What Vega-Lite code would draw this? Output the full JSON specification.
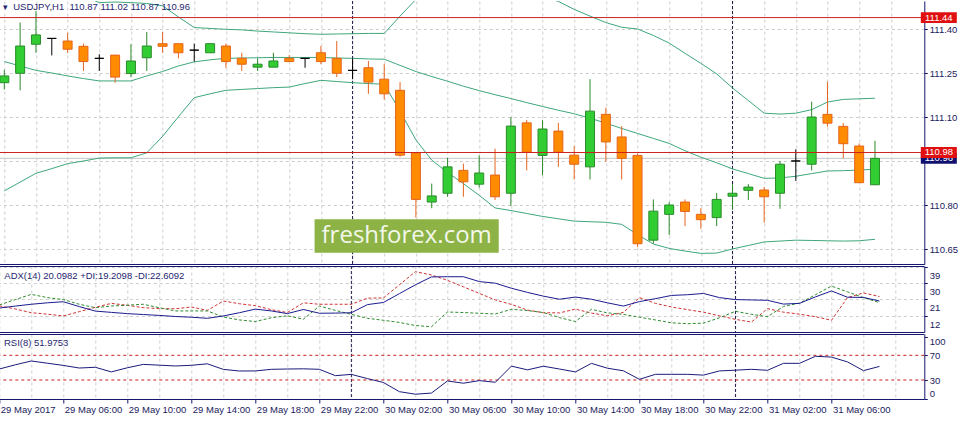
{
"$schema": "https://vega.github.io/schema/vega-lite/v6.json",
"background": "white",
"padding": {"left": -1.7, "top": 0, "right": 0, "bottom": 0},
"autosize": {"type": "pad"},
"spacing": 2,
"bounds": "flush",
"datasets": {
"bars": [
{"t":"2017-05-29T02:00:00Z","open":111.218,"high":111.262,"low":111.195,"close":111.241,"upper":111.732,"mid":111.290,"lower":110.849,"adx":16.2,"pdi":17.9,"mdi":17.4,"rsi":47.8},
{"t":"2017-05-29T03:00:00Z","open":111.250,"high":111.423,"low":111.192,"close":111.343,"upper":111.670,"mid":111.275,"lower":110.879,"adx":17.3,"pdi":20.9,"mdi":15.7,"rsi":54.6},
{"t":"2017-05-29T04:00:00Z","open":111.349,"high":111.462,"low":111.320,"close":111.381,"upper":111.610,"mid":111.260,"lower":110.909,"adx":18.3,"pdi":23.8,"mdi":13.6,"rsi":60.8},
{"t":"2017-05-29T05:00:00Z","open":111.369,"high":111.369,"low":111.311,"close":111.369,"upper":111.576,"mid":111.251,"lower":110.925,"adx":19.1,"pdi":22.0,"mdi":12.8,"rsi":57.2},
{"t":"2017-05-29T06:00:00Z","open":111.360,"high":111.388,"low":111.320,"close":111.332,"upper":111.540,"mid":111.241,"lower":110.942,"adx":19.7,"pdi":20.9,"mdi":11.8,"rsi":53.6},
{"t":"2017-05-29T07:00:00Z","open":111.342,"high":111.351,"low":111.258,"close":111.290,"upper":111.513,"mid":111.232,"lower":110.951,"adx":17.0,"pdi":18.3,"mdi":14.2,"rsi":49.4},
{"t":"2017-05-29T08:00:00Z","open":111.301,"high":111.315,"low":111.258,"close":111.301,"upper":111.491,"mid":111.224,"lower":110.961,"adx":14.5,"pdi":16.4,"mdi":16.6,"rsi":50.6},
{"t":"2017-05-29T09:00:00Z","open":111.312,"high":111.312,"low":111.218,"close":111.237,"upper":111.493,"mid":111.224,"lower":110.962,"adx":13.8,"pdi":17.3,"mdi":18.8,"rsi":43.1},
{"t":"2017-05-29T10:00:00Z","open":111.249,"high":111.349,"low":111.237,"close":111.292,"upper":111.491,"mid":111.224,"lower":110.962,"adx":13.1,"pdi":17.8,"mdi":17.7,"rsi":49.8},
{"t":"2017-05-29T11:00:00Z","open":111.303,"high":111.391,"low":111.258,"close":111.343,"upper":111.488,"mid":111.241,"lower":110.979,"adx":12.6,"pdi":18.3,"mdi":16.4,"rsi":55.3},
{"t":"2017-05-29T12:00:00Z","open":111.351,"high":111.391,"low":111.320,"close":111.342,"upper":111.480,"mid":111.256,"lower":111.035,"adx":12.1,"pdi":16.4,"mdi":15.9,"rsi":54.0},
{"t":"2017-05-29T13:00:00Z","open":111.351,"high":111.351,"low":111.301,"close":111.320,"upper":111.442,"mid":111.275,"lower":111.102,"adx":11.5,"pdi":14.6,"mdi":15.8,"rsi":52.7},
{"t":"2017-05-29T14:00:00Z","open":111.329,"high":111.351,"low":111.290,"close":111.329,"upper":111.406,"mid":111.289,"lower":111.167,"adx":11.1,"pdi":14.6,"mdi":16.8,"rsi":53.8},
{"t":"2017-05-29T15:00:00Z","open":111.320,"high":111.352,"low":111.319,"close":111.351,"upper":111.403,"mid":111.296,"lower":111.180,"adx":10.5,"pdi":14.6,"mdi":14.9,"rsi":56.2},
{"t":"2017-05-29T16:00:00Z","open":111.343,"high":111.351,"low":111.269,"close":111.290,"upper":111.400,"mid":111.301,"lower":111.192,"adx":11.8,"pdi":11.2,"mdi":20.1,"rsi":47.2},
{"t":"2017-05-29T17:00:00Z","open":111.301,"high":111.320,"low":111.258,"close":111.281,"upper":111.398,"mid":111.302,"lower":111.195,"adx":13.6,"pdi":9.6,"mdi":18.6,"rsi":44.6},
{"t":"2017-05-29T18:00:00Z","open":111.271,"high":111.301,"low":111.258,"close":111.281,"upper":111.394,"mid":111.303,"lower":111.198,"adx":15.6,"pdi":8.7,"mdi":17.5,"rsi":44.7},
{"t":"2017-05-29T19:00:00Z","open":111.271,"high":111.320,"low":111.271,"close":111.292,"upper":111.391,"mid":111.304,"lower":111.201,"adx":14.6,"pdi":10.8,"mdi":15.3,"rsi":47.3},
{"t":"2017-05-29T20:00:00Z","open":111.301,"high":111.312,"low":111.289,"close":111.290,"upper":111.388,"mid":111.304,"lower":111.203,"adx":13.1,"pdi":11.9,"mdi":13.7,"rsi":47.8},
{"t":"2017-05-29T21:00:00Z","open":111.301,"high":111.301,"low":111.269,"close":111.301,"upper":111.385,"mid":111.304,"lower":111.215,"adx":15.4,"pdi":10.0,"mdi":19.1,"rsi":48.1},
{"t":"2017-05-29T22:00:00Z","open":111.320,"high":111.343,"low":111.281,"close":111.290,"upper":111.383,"mid":111.304,"lower":111.226,"adx":13.3,"pdi":17.3,"mdi":18.3,"rsi":47.3},
{"t":"2017-05-29T23:00:00Z","open":111.301,"high":111.360,"low":111.237,"close":111.250,"upper":111.384,"mid":111.302,"lower":111.222,"adx":13.4,"pdi":14.9,"mdi":18.3,"rsi":37.0},
{"t":"2017-05-30T00:00:00Z","open":111.260,"high":111.301,"low":111.230,"close":111.260,"upper":111.385,"mid":111.301,"lower":111.218,"adx":13.6,"pdi":12.7,"mdi":18.3,"rsi":39.1},
{"t":"2017-05-30T01:00:00Z","open":111.269,"high":111.292,"low":111.180,"close":111.220,"upper":111.386,"mid":111.299,"lower":111.215,"adx":18.1,"pdi":10.5,"mdi":21.7,"rsi":32.3},
{"t":"2017-05-30T02:00:00Z","open":111.230,"high":111.281,"low":111.161,"close":111.180,"upper":111.386,"mid":111.298,"lower":111.213,"adx":19.3,"pdi":9.4,"mdi":21.8,"rsi":26.0},
{"t":"2017-05-30T03:00:00Z","open":111.192,"high":111.220,"low":110.965,"close":110.971,"upper":111.445,"mid":111.277,"lower":111.121,"adx":24.2,"pdi":8.2,"mdi":29.1,"rsi":11.1},
{"t":"2017-05-30T04:00:00Z","open":110.979,"high":110.980,"low":110.758,"close":110.820,"upper":111.502,"mid":111.256,"lower":111.023,"adx":29.1,"pdi":6.5,"mdi":36.4,"rsi":7.0},
{"t":"2017-05-30T05:00:00Z","open":110.811,"high":110.874,"low":110.790,"close":110.832,"upper":111.524,"mid":111.239,"lower":110.954,"adx":33.5,"pdi":5.8,"mdi":34.6,"rsi":8.8},
{"t":"2017-05-30T06:00:00Z","open":110.841,"high":110.962,"low":110.829,"close":110.931,"upper":111.533,"mid":111.223,"lower":110.912,"adx":33.6,"pdi":14.0,"mdi":31.6,"rsi":28.4},
{"t":"2017-05-30T07:00:00Z","open":110.919,"high":110.942,"low":110.829,"close":110.880,"upper":111.539,"mid":111.206,"lower":110.874,"adx":33.6,"pdi":13.7,"mdi":28.0,"rsi":24.8},
{"t":"2017-05-30T08:00:00Z","open":110.872,"high":110.971,"low":110.860,"close":110.910,"upper":111.548,"mid":111.191,"lower":110.834,"adx":30.9,"pdi":13.3,"mdi":24.3,"rsi":29.0},
{"t":"2017-05-30T09:00:00Z","open":110.903,"high":110.993,"low":110.818,"close":110.829,"upper":111.564,"mid":111.177,"lower":110.791,"adx":30.0,"pdi":12.9,"mdi":20.7,"rsi":26.3},
{"t":"2017-05-30T10:00:00Z","open":110.841,"high":111.101,"low":110.798,"close":111.070,"upper":111.545,"mid":111.164,"lower":110.782,"adx":27.2,"pdi":15.5,"mdi":18.2,"rsi":52.5},
{"t":"2017-05-30T11:00:00Z","open":111.081,"high":111.091,"low":110.919,"close":110.981,"upper":111.528,"mid":111.150,"lower":110.772,"adx":24.9,"pdi":14.8,"mdi":15.1,"rsi":46.4},
{"t":"2017-05-30T12:00:00Z","open":110.970,"high":111.091,"low":110.902,"close":111.060,"upper":111.512,"mid":111.137,"lower":110.762,"adx":22.8,"pdi":13.7,"mdi":13.6,"rsi":52.3},
{"t":"2017-05-30T13:00:00Z","open":111.053,"high":111.081,"low":110.931,"close":110.981,"upper":111.495,"mid":111.124,"lower":110.754,"adx":21.1,"pdi":10.9,"mdi":13.5,"rsi":47.8},
{"t":"2017-05-30T14:00:00Z","open":110.971,"high":111.002,"low":110.888,"close":110.940,"upper":111.468,"mid":111.112,"lower":110.746,"adx":22.3,"pdi":8.7,"mdi":15.6,"rsi":43.1},
{"t":"2017-05-30T15:00:00Z","open":110.931,"high":111.230,"low":110.888,"close":111.121,"upper":111.445,"mid":111.097,"lower":110.744,"adx":21.1,"pdi":15.5,"mdi":13.4,"rsi":56.9},
{"t":"2017-05-30T16:00:00Z","open":111.110,"high":111.133,"low":110.949,"close":111.016,"upper":111.423,"mid":111.080,"lower":110.742,"adx":19.1,"pdi":13.5,"mdi":11.9,"rsi":49.1},
{"t":"2017-05-30T17:00:00Z","open":111.033,"high":111.070,"low":110.888,"close":110.960,"upper":111.407,"mid":111.062,"lower":110.735,"adx":17.3,"pdi":12.7,"mdi":13.8,"rsi":44.9},
{"t":"2017-05-30T18:00:00Z","open":110.970,"high":110.976,"low":110.658,"close":110.669,"upper":111.401,"mid":111.045,"lower":110.700,"adx":19.8,"pdi":11.1,"mdi":22.0,"rsi":31.1},
{"t":"2017-05-30T19:00:00Z","open":110.681,"high":110.820,"low":110.669,"close":110.780,"upper":111.379,"mid":111.028,"lower":110.668,"adx":21.4,"pdi":9.6,"mdi":18.8,"rsi":39.2},
{"t":"2017-05-30T20:00:00Z","open":110.769,"high":110.811,"low":110.699,"close":110.801,"upper":111.353,"mid":111.011,"lower":110.653,"adx":23.2,"pdi":8.0,"mdi":16.8,"rsi":39.2},
{"t":"2017-05-30T21:00:00Z","open":110.811,"high":110.820,"low":110.729,"close":110.779,"upper":111.318,"mid":110.986,"lower":110.644,"adx":23.6,"pdi":7.5,"mdi":15.3,"rsi":39.2},
{"t":"2017-05-30T22:00:00Z","open":110.769,"high":110.790,"low":110.720,"close":110.751,"upper":111.284,"mid":110.964,"lower":110.636,"adx":24.3,"pdi":7.8,"mdi":13.9,"rsi":37.9},
{"t":"2017-05-30T23:00:00Z","open":110.758,"high":110.842,"low":110.729,"close":110.820,"upper":111.248,"mid":110.945,"lower":110.637,"adx":22.0,"pdi":10.8,"mdi":11.9,"rsi":44.7},
{"t":"2017-05-31T00:00:00Z","open":110.831,"high":110.872,"low":110.784,"close":110.841,"upper":111.200,"mid":110.924,"lower":110.651,"adx":20.9,"pdi":14.4,"mdi":9.9,"rsi":45.9},
{"t":"2017-05-31T01:00:00Z","open":110.851,"high":110.872,"low":110.818,"close":110.862,"upper":111.157,"mid":110.908,"lower":110.663,"adx":20.7,"pdi":12.7,"mdi":8.4,"rsi":47.3},
{"t":"2017-05-31T02:00:00Z","open":110.852,"high":110.862,"low":110.741,"close":110.829,"upper":111.114,"mid":110.892,"lower":110.675,"adx":20.5,"pdi":11.4,"mdi":15.9,"rsi":45.7},
{"t":"2017-05-31T03:00:00Z","open":110.841,"high":110.951,"low":110.788,"close":110.940,"upper":111.111,"mid":110.893,"lower":110.678,"adx":18.4,"pdi":17.1,"mdi":13.9,"rsi":57.0},
{"t":"2017-05-31T04:00:00Z","open":110.951,"high":110.991,"low":110.883,"close":110.951,"upper":111.114,"mid":110.899,"lower":110.681,"adx":18.8,"pdi":18.9,"mdi":12.8,"rsi":57.0},
{"t":"2017-05-31T05:00:00Z","open":110.940,"high":111.153,"low":110.919,"close":111.101,"upper":111.126,"mid":110.908,"lower":110.680,"adx":22.4,"pdi":23.6,"mdi":11.4,"rsi":68.4},
{"t":"2017-05-31T06:00:00Z","open":111.110,"high":111.221,"low":111.068,"close":111.080,"upper":111.152,"mid":110.917,"lower":110.679,"adx":25.7,"pdi":28.4,"mdi":9.4,"rsi":67.1},
{"t":"2017-05-31T07:00:00Z","open":111.069,"high":111.080,"low":110.960,"close":111.010,"upper":111.161,"mid":110.918,"lower":110.678,"adx":22.2,"pdi":25.2,"mdi":22.0,"rsi":59.3},
{"t":"2017-05-31T08:00:00Z","open":111.002,"high":111.011,"low":110.877,"close":110.877,"upper":111.163,"mid":110.920,"lower":110.679,"adx":22.1,"pdi":22.0,"mdi":24.6,"rsi":45.2},
{"t":"2017-05-31T09:00:00Z","open":110.870,"high":111.020,"low":110.870,"close":110.960,"upper":111.165,"mid":110.923,"lower":110.684,"adx":20.1,"pdi":19.2,"mdi":22.6,"rsi":52.0}
],
"days": [{"t":"2017-05-30T00:00:00Z"},{"t":"2017-05-31T00:00:00Z"}]
},
"config": {
"view": {"stroke": null},
"axis": {"labelFont":"Liberation Sans","labelFontSize":9.5,"labelColor":"#1a1a5e","domainColor":"#14146e","domainWidth":1,"tickColor":"#14146e","tickWidth":1,"gridColor":"#cdcdcd","gridDash":[3,3],"gridWidth":1,"labelOverlap":false},
"title": {"font":"Liberation Sans","fontSize":9.5,"fontWeight":"normal","color":"#1f1f6f","anchor":"start","frame":"group","baseline":"middle","orient":"top"}
},
"vconcat": [
{
"width": 925, "height": 263,
"title": {"text": "\u25be\u00a0\u00a0USDJPY,H1\u00a0\u00a0110.87 111.02 110.87 110.96", "offset": -11, "dx": 3.7},
"layer": [
{"data":{"name":"days"},"mark":{"type":"rule","color":"#1c1c48","strokeDash":[3,2]},
 "encoding":{"x":{"field":"t","type":"temporal","scale":{"type":"utc","nice":false,"domain":[{"year":2017,"month":5,"date":29,"hours":2,"utc":true},{"year":2017,"month":5,"date":31,"hours":11,"minutes":48,"utc":true}]},
  "axis":{"title":null,"labels":false,"ticks":false,"domain":true,"grid":true,"labelFlush":false,"tickCount":60,
  "values":[{"year":2017,"month":5,"date":29,"hours":2,"utc":true},{"year":2017,"month":5,"date":29,"hours":4,"utc":true},{"year":2017,"month":5,"date":29,"hours":6,"utc":true},{"year":2017,"month":5,"date":29,"hours":8,"utc":true},{"year":2017,"month":5,"date":29,"hours":10,"utc":true},{"year":2017,"month":5,"date":29,"hours":12,"utc":true},{"year":2017,"month":5,"date":29,"hours":14,"utc":true},{"year":2017,"month":5,"date":29,"hours":16,"utc":true},{"year":2017,"month":5,"date":29,"hours":18,"utc":true},{"year":2017,"month":5,"date":29,"hours":20,"utc":true},{"year":2017,"month":5,"date":29,"hours":22,"utc":true},{"year":2017,"month":5,"date":30,"hours":0,"utc":true},{"year":2017,"month":5,"date":30,"hours":2,"utc":true},{"year":2017,"month":5,"date":30,"hours":4,"utc":true},{"year":2017,"month":5,"date":30,"hours":6,"utc":true},{"year":2017,"month":5,"date":30,"hours":8,"utc":true},{"year":2017,"month":5,"date":30,"hours":10,"utc":true},{"year":2017,"month":5,"date":30,"hours":12,"utc":true},{"year":2017,"month":5,"date":30,"hours":14,"utc":true},{"year":2017,"month":5,"date":30,"hours":16,"utc":true},{"year":2017,"month":5,"date":30,"hours":18,"utc":true},{"year":2017,"month":5,"date":30,"hours":20,"utc":true},{"year":2017,"month":5,"date":30,"hours":22,"utc":true},{"year":2017,"month":5,"date":31,"hours":0,"utc":true},{"year":2017,"month":5,"date":31,"hours":2,"utc":true},{"year":2017,"month":5,"date":31,"hours":4,"utc":true},{"year":2017,"month":5,"date":31,"hours":6,"utc":true},{"year":2017,"month":5,"date":31,"hours":8,"utc":true},{"year":2017,"month":5,"date":31,"hours":10,"utc":true}]}}}},
{"data":{"values":[{"price":110.96}]},"mark":{"type":"rule","color":"#c6c6c6"},
 "encoding":{"y":{"field":"price","type":"quantitative","scale":{"domain":[110.5998,111.4965],"nice":false,"zero":false},
  "axis":{"orient":"right","title":null,"values":[110.65,110.8,110.95,111.1,111.25,111.4],"tickCount":20,"labelExpr":"abs(datum.value-110.95)<0.001 ? '' : format(datum.value,'.2f')","tickSize":3,"labelPadding":2,"grid":true,"labelFlush":false,"labelOverlap":false,"labelBaseline":"middle"}}}},
{"data":{"name":"bars"},"mark":{"type":"line","clip":true,"color":"#3da77a","strokeWidth":1},
 "encoding":{"x":{"field":"t","type":"temporal","title":null},"y":{"field":"upper","type":"quantitative","title":null}}},
{"data":{"name":"bars"},"mark":{"type":"line","clip":true,"color":"#3da77a","strokeWidth":1},
 "encoding":{"x":{"field":"t","type":"temporal","title":null},"y":{"field":"mid","type":"quantitative","title":null}}},
{"data":{"name":"bars"},"mark":{"type":"line","clip":true,"color":"#3da77a","strokeWidth":1},
 "encoding":{"x":{"field":"t","type":"temporal","title":null},"y":{"field":"lower","type":"quantitative","title":null}}},
{"data":{"name":"bars"},"mark":{"type":"rule","clip":true,"strokeWidth":1},
 "encoding":{"x":{"field":"t","type":"temporal","title":null},"y":{"field":"low","type":"quantitative","title":null},"y2":{"field":"high"},
  "color":{"condition":[{"test":"datum.close > datum.open","value":"#2a8a2a"},{"test":"datum.close < datum.open","value":"#e5641c"}],"value":"#000000"}}},
{"data":{"name":"bars"},"mark":{"type":"bar","clip":true,"width":9,"strokeWidth":1},
 "encoding":{"x":{"field":"t","type":"temporal","title":null},"y":{"field":"open","type":"quantitative","title":null},"y2":{"field":"close"},
  "fill":{"condition":[{"test":"datum.close > datum.open","value":"#32cd32"},{"test":"datum.close < datum.open","value":"#ff8c00"}],"value":"#000000"},
  "stroke":{"condition":[{"test":"datum.close > datum.open","value":"#2a8a2a"},{"test":"datum.close < datum.open","value":"#e5641c"}],"value":"#000000"}}},
{"data":{"values":[{"price":111.44},{"price":110.98}]},"mark":{"type":"rule","color":"#cc2020"},
 "encoding":{"y":{"field":"price","type":"quantitative","title":null}}},
{"data":{"values":[{}]},"mark":{"type":"rect","color":"#8db347"},
 "encoding":{"x":{"datum":{"year":2017,"month":5,"date":29,"hours":21,"minutes":36,"utc":true},"type":"temporal"},"x2":{"datum":{"year":2017,"month":5,"date":30,"hours":9,"minutes":14,"utc":true}},
  "y":{"datum":110.752,"type":"quantitative"},"y2":{"datum":110.638}}},
{"data":{"values":[{"label":"freshforex.com"}]},"mark":{"type":"text","font":"Open Sans","fontSize":24,"color":"#f3f7eb","align":"center","baseline":"middle"},
 "encoding":{"x":{"datum":{"year":2017,"month":5,"date":30,"hours":3,"minutes":25,"utc":true},"type":"temporal"},"y":{"datum":110.695,"type":"quantitative"},"text":{"field":"label"}}},
{"data":{"values":[{"price":110.96}]},"mark":{"type":"point","shape":"M-1,-0.3H1V0.3H-1Z","size":1296,"filled":true,"opacity":1,"color":"#10106e","strokeWidth":0},
 "encoding":{"x":{"datum":{"year":2017,"month":5,"date":31,"hours":13,"minutes":2,"utc":true},"type":"temporal"},"y":{"field":"price","type":"quantitative","title":null}}},
{"data":{"values":[{"price":110.96}]},"mark":{"type":"text","font":"Liberation Sans","fontSize":9.5,"color":"#ffffff","align":"center","baseline":"middle"},
 "encoding":{"x":{"datum":{"year":2017,"month":5,"date":31,"hours":13,"minutes":2,"utc":true},"type":"temporal"},"y":{"field":"price","type":"quantitative","title":null},"text":{"field":"price","type":"quantitative","format":".2f"}}},
{"data":{"values":[{"price":111.44},{"price":110.98}]},"mark":{"type":"point","shape":"M-1,-0.3H1V0.3H-1Z","size":1296,"filled":true,"opacity":1,"color":"#e01010","strokeWidth":0},
 "encoding":{"x":{"datum":{"year":2017,"month":5,"date":31,"hours":13,"minutes":2,"utc":true},"type":"temporal"},"y":{"field":"price","type":"quantitative","title":null}}},
{"data":{"values":[{"price":111.44},{"price":110.98}]},"mark":{"type":"text","font":"Liberation Sans","fontSize":9.5,"color":"#ffffff","align":"center","baseline":"middle"},
 "encoding":{"x":{"datum":{"year":2017,"month":5,"date":31,"hours":13,"minutes":2,"utc":true},"type":"temporal"},"y":{"field":"price","type":"quantitative","title":null},"text":{"field":"price","type":"quantitative","format":".2f"}}}
]
},
{
"width": 925, "height": 66,
"title": {"text": "ADX(14) 20.0982 +DI:19.2098 -DI:22.6092", "offset": -15, "dx": 5},
"layer": [
{"data":{"name":"days"},"mark":{"type":"rule","color":"#1c1c48","strokeDash":[3,2]},
 "encoding":{"x":{"field":"t","type":"temporal","scale":{"type":"utc","nice":false,"domain":[{"year":2017,"month":5,"date":29,"hours":2,"utc":true},{"year":2017,"month":5,"date":31,"hours":11,"minutes":48,"utc":true}]},
  "axis":{"title":null,"labels":false,"ticks":false,"domain":true,"grid":true,"labelFlush":false,"tickCount":60,
  "values":[{"year":2017,"month":5,"date":29,"hours":2,"utc":true},{"year":2017,"month":5,"date":29,"hours":4,"utc":true},{"year":2017,"month":5,"date":29,"hours":6,"utc":true},{"year":2017,"month":5,"date":29,"hours":8,"utc":true},{"year":2017,"month":5,"date":29,"hours":10,"utc":true},{"year":2017,"month":5,"date":29,"hours":12,"utc":true},{"year":2017,"month":5,"date":29,"hours":14,"utc":true},{"year":2017,"month":5,"date":29,"hours":16,"utc":true},{"year":2017,"month":5,"date":29,"hours":18,"utc":true},{"year":2017,"month":5,"date":29,"hours":20,"utc":true},{"year":2017,"month":5,"date":29,"hours":22,"utc":true},{"year":2017,"month":5,"date":30,"hours":0,"utc":true},{"year":2017,"month":5,"date":30,"hours":2,"utc":true},{"year":2017,"month":5,"date":30,"hours":4,"utc":true},{"year":2017,"month":5,"date":30,"hours":6,"utc":true},{"year":2017,"month":5,"date":30,"hours":8,"utc":true},{"year":2017,"month":5,"date":30,"hours":10,"utc":true},{"year":2017,"month":5,"date":30,"hours":12,"utc":true},{"year":2017,"month":5,"date":30,"hours":14,"utc":true},{"year":2017,"month":5,"date":30,"hours":16,"utc":true},{"year":2017,"month":5,"date":30,"hours":18,"utc":true},{"year":2017,"month":5,"date":30,"hours":20,"utc":true},{"year":2017,"month":5,"date":30,"hours":22,"utc":true},{"year":2017,"month":5,"date":31,"hours":0,"utc":true},{"year":2017,"month":5,"date":31,"hours":2,"utc":true},{"year":2017,"month":5,"date":31,"hours":4,"utc":true},{"year":2017,"month":5,"date":31,"hours":6,"utc":true},{"year":2017,"month":5,"date":31,"hours":8,"utc":true},{"year":2017,"month":5,"date":31,"hours":10,"utc":true}]}}}},
{"data":{"values":[{}]},"mark":{"type":"rule","color":"#14146e"},
 "encoding":{"y":{"datum":39.28,"type":"quantitative","scale":{"domain":[2.89,39.56],"nice":false,"zero":false},
  "axis":{"orient":"right","title":null,"values":[12,21,30,39],"tickCount":20,"labelBaseline":"top","labelOffset":3.5,"tickSize":3,"labelPadding":2,"grid":true,"labelFlush":false,"labelOverlap":false}}}},
{"data":{"name":"bars"},"mark":{"type":"line","clip":true,"color":"#d23030","strokeWidth":1,"strokeDash":[3,2]},
 "encoding":{"x":{"field":"t","type":"temporal","title":null},"y":{"field":"mdi","type":"quantitative","title":null}}},
{"data":{"name":"bars"},"mark":{"type":"line","clip":true,"color":"#2e8b2e","strokeWidth":1,"strokeDash":[3,2]},
 "encoding":{"x":{"field":"t","type":"temporal","title":null},"y":{"field":"pdi","type":"quantitative","title":null}}},
{"data":{"name":"bars"},"mark":{"type":"line","clip":true,"color":"#1a1a90","strokeWidth":1},
 "encoding":{"x":{"field":"t","type":"temporal","title":null},"y":{"field":"adx","type":"quantitative","title":null}}}
]
},
{
"width": 925, "height": 65,
"title": {"text": "RSI(8) 51.9753", "offset": -14.3, "dx": 4.7},
"layer": [
{"data":{"name":"days"},"mark":{"type":"rule","color":"#1c1c48","strokeDash":[3,2]},
 "encoding":{"x":{"field":"t","type":"temporal","scale":{"type":"utc","nice":false,"domain":[{"year":2017,"month":5,"date":29,"hours":2,"utc":true},{"year":2017,"month":5,"date":31,"hours":11,"minutes":48,"utc":true}]},
  "axis":{"title":null,"labels":true,"ticks":true,"domain":true,"grid":true,"labelFlush":false,"labelOverlap":false,"labelBound":false,"tickCount":60,
  "labelAlign":"left","labelBaseline":"top","labelOffset":1,"labelPadding":2,"tickSize":4,
  "tickOpacity":{"condition":{"test":"(utchours(datum.value) % 4) == 2 && +datum.value < utc(2017,4,31,7,0)","value":1},"value":0},
  "labelExpr":"(+datum.value >= utc(2017,4,31,7,0) || (utchours(datum.value) % 4) != 2) ? '' : (+datum.value < utc(2017,4,29,3,0) ? '29 May 2017' : utcFormat(datum.value, '%d %b %H:%M'))",
  "values":[{"year":2017,"month":5,"date":29,"hours":2,"utc":true},{"year":2017,"month":5,"date":29,"hours":4,"utc":true},{"year":2017,"month":5,"date":29,"hours":6,"utc":true},{"year":2017,"month":5,"date":29,"hours":8,"utc":true},{"year":2017,"month":5,"date":29,"hours":10,"utc":true},{"year":2017,"month":5,"date":29,"hours":12,"utc":true},{"year":2017,"month":5,"date":29,"hours":14,"utc":true},{"year":2017,"month":5,"date":29,"hours":16,"utc":true},{"year":2017,"month":5,"date":29,"hours":18,"utc":true},{"year":2017,"month":5,"date":29,"hours":20,"utc":true},{"year":2017,"month":5,"date":29,"hours":22,"utc":true},{"year":2017,"month":5,"date":30,"hours":0,"utc":true},{"year":2017,"month":5,"date":30,"hours":2,"utc":true},{"year":2017,"month":5,"date":30,"hours":4,"utc":true},{"year":2017,"month":5,"date":30,"hours":6,"utc":true},{"year":2017,"month":5,"date":30,"hours":8,"utc":true},{"year":2017,"month":5,"date":30,"hours":10,"utc":true},{"year":2017,"month":5,"date":30,"hours":12,"utc":true},{"year":2017,"month":5,"date":30,"hours":14,"utc":true},{"year":2017,"month":5,"date":30,"hours":16,"utc":true},{"year":2017,"month":5,"date":30,"hours":18,"utc":true},{"year":2017,"month":5,"date":30,"hours":20,"utc":true},{"year":2017,"month":5,"date":30,"hours":22,"utc":true},{"year":2017,"month":5,"date":31,"hours":0,"utc":true},{"year":2017,"month":5,"date":31,"hours":2,"utc":true},{"year":2017,"month":5,"date":31,"hours":4,"utc":true},{"year":2017,"month":5,"date":31,"hours":6,"utc":true},{"year":2017,"month":5,"date":31,"hours":8,"utc":true},{"year":2017,"month":5,"date":31,"hours":10,"utc":true}]}}}},
{"data":{"values":[{}]},"mark":{"type":"rule","color":"#14146e"},
 "encoding":{"y":{"datum":103.69,"type":"quantitative","scale":{"domain":[-0.77,104.5],"nice":false,"zero":false},
  "axis":{"orient":"right","title":null,"values":[0,30,70,100],"tickCount":20,"labelFlush":5,"tickSize":3,"labelPadding":2,"grid":false,"labelOverlap":false}}}},
{"data":{"values":[{"level":70},{"level":30}]},"mark":{"type":"rule","color":"#c81e1e","strokeDash":[3,3]},
 "encoding":{"y":{"field":"level","type":"quantitative","title":null}}},
{"data":{"name":"bars"},"mark":{"type":"line","clip":true,"color":"#1a1a7a","strokeWidth":1},
 "encoding":{"x":{"field":"t","type":"temporal","title":null},"y":{"field":"rsi","type":"quantitative","title":null}}}
]
}
]
}
